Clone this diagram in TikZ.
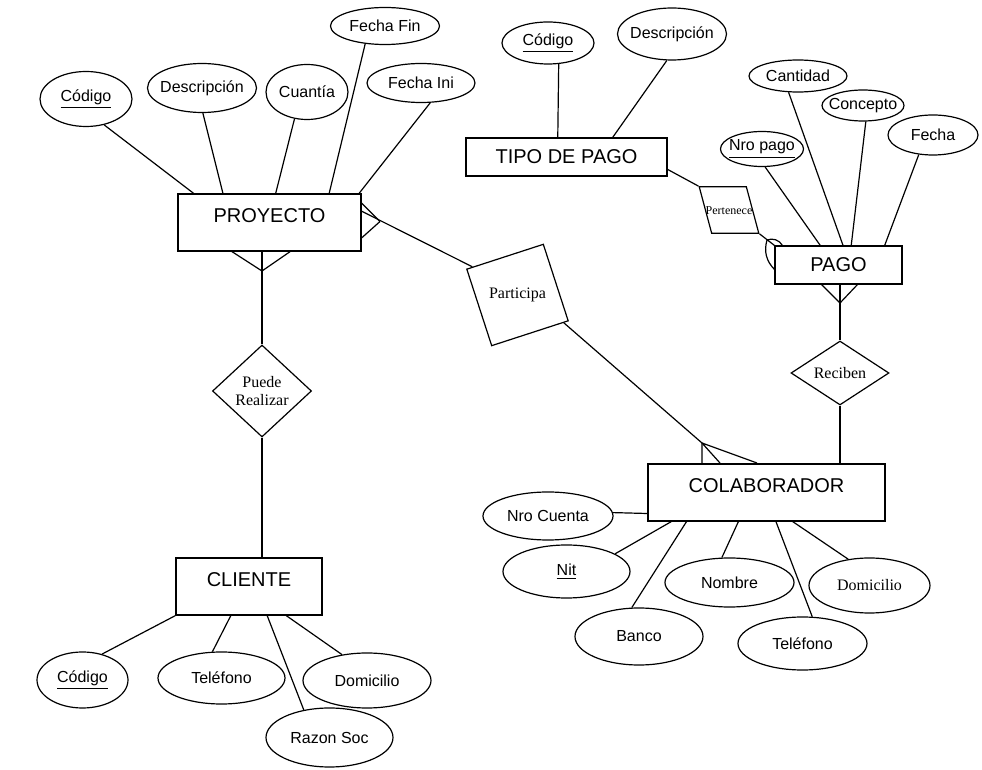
\documentclass[tikz,border=0pt]{standalone}
\usepackage{fontspec}
\setmainfont{Liberation Serif}
\setsansfont{Liberation Sans}
\usetikzlibrary{shapes.geometric,calc}

\tikzset{
  ent/.style={draw, rectangle, inner sep=0pt,
              font=\sffamily\fontsize{10}{12}\selectfont,
              text height=7pt, text depth=0pt},
  entalta/.style={ent, minimum height=28.5pt, text depth=7pt},
  atr/.style 2 args={draw, ellipse, inner sep=0pt,
                     minimum width=#1, minimum height=#2,
                     font=\sffamily\fontsize{8}{9.6}\selectfont,
                     execute at begin node={\hbox to 0pt\bgroup\hss},
                     execute at end node={\hss\egroup}},
  rel/.style={draw, inner sep=0pt, align=center,
              font=\rmfamily\fontsize{8}{9}\selectfont},
}

\begin{document}
\begin{tikzpicture}[x=0.5pt, y=-0.5pt, line width=0.6pt]
\useasboundingbox (0,0) rectangle (982,770);

% Entidades
\node[entalta, minimum width=91.5pt] (proy) at (269.5,222.5) {PROYECTO};
\node[ent, minimum width=100.5pt, minimum height=19pt] (tipo) at (566.5,157) {TIPO DE PAGO};
\node[ent, minimum width=63.5pt, minimum height=19pt] (pago) at (838.5,265) {PAGO};
\node[entalta, minimum width=118.5pt] (colab) at (766.5,492.5) {COLABORADOR};
\node[entalta, minimum width=73pt] (cli) at (249,586.5) {CLIENTE};

% Relaciones
\node[rel, diamond, minimum width=49.5pt, minimum height=46pt] (pr) at (262,391) {Puede\\Realizar};
\node[rel, regular polygon, regular polygon sides=4, shape border rotate=18,
      minimum size=50.5pt] (part) at (517.5,295) {Participa};
\node[rel, trapezium, trapezium left angle=105, trapezium right angle=75,
      inner xsep=-3pt, inner ysep=9.4pt, text height=4.5pt, text depth=0pt,
      font=\rmfamily\fontsize{6}{7}\selectfont] (pert) at (729,210) {Pertenece};
\node[rel, diamond, aspect=1.5, minimum width=49pt, minimum height=32pt] (rec) at (840,373) {Reciben};

% Atributos de PROYECTO
\node[atr={46pt}{27.5pt}] (pcod) at (86,99) {\underline{Código}};
\node[atr={54.5pt}{24.5pt}] (pdes) at (202,88) {Descripción};
\node[atr={41pt}{27.5pt}] (pcua) at (307,92) {Cuantía};
\node[atr={54.5pt}{18.5pt}] (pffin) at (385,26) {Fecha Fin};
\node[atr={54pt}{19.5pt}] (pfini) at (421,83) {Fecha Ini};

% Atributos de TIPO DE PAGO
\node[atr={46pt}{21pt}] (tcod) at (548,43) {\underline{Código}};
\node[atr={54.5pt}{26pt}] (tdes) at (672,34) {Descripción};

% Atributos de PAGO
\node[atr={41.5pt}{17.5pt}] (gnro) at (762,149) {\underline{Nro pago}};
\node[atr={49pt}{16pt}] (gcan) at (798,76) {Cantidad};
\node[atr={41pt}{15.5pt}] (gcon) at (863,105.5) {Concepto};
\node[atr={45pt}{20pt}] (gfec) at (933,135) {Fecha};

% Atributos de COLABORADOR
\node[atr={65pt}{24pt}] (cnro) at (548,516) {Nro Cuenta};
\node[atr={63.5pt}{26.5pt}] (cnit) at (566.5,571.5) {\underline{Nit}};
\node[atr={64pt}{28.5pt}] (cban) at (639,636.5) {Banco};
\node[atr={64.5pt}{24.5pt}] (cnom) at (729.5,582.5) {Nombre};
\node[atr={64.5pt}{26.5pt}] (ctel) at (802.5,643.5) {Teléfono};
\node[atr={60.5pt}{27.5pt}, font=\rmfamily\fontsize{8}{9.6}\selectfont] (cdom) at (869.5,585.5) {Domicilio};

% Atributos de CLIENTE
\node[atr={45.5pt}{28pt}] (kcod) at (82.5,680) {\underline{Código}};
\node[atr={63.5pt}{26pt}] (ktel) at (221.5,678) {Teléfono};
\node[atr={63.5pt}{29.5pt}] (krs) at (329.5,737.5) {Razon Soc};
\node[atr={64pt}{27.5pt}] (kdom) at (367,680.5) {Domicilio};

% Lineas de atributos
\draw (pcod.-55) -- (proy.159);
\draw (pdes.-88) -- (proy.148);
\draw (pcua.-115) -- (proy.78);
\draw (pffin.-138) -- (proy.26);
\draw (pfini.-65) -- (proy.18);

\draw (tcod.-63) -- (tipo.114);
\draw (tdes.-101) -- (tipo.23);

\draw (gnro.-80) -- (pago.133);
\draw (gcan.-120) -- (pago.77);
\draw (gcon.-80) -- (pago.57);
\draw (gfec.-126) -- (pago.23);

\draw (cnro.3) -- (colab.-170);
\draw (cnit.20) -- (colab.-163);
\draw (cban.104) -- (colab.-160);
\draw (cnom.107) -- (colab.-134);
\draw (ctel.70) -- (colab.-72);
\draw (cdom.129) -- (colab.-48);

\draw (kcod.53) -- (cli.south west);
\draw (ktel.109) -- (cli.-122);
\draw (krs.133) -- (cli.-58);
\draw (kdom.134) -- (cli.-38);

% PROYECTO - Puede Realizar - CLIENTE
\coordinate (pata1) at (262,271);
\draw (proy.south -| pr.north) -- (pr.north);
\draw (pata1) -- ++(-31,-20) (pata1) -- ++(29,-20);
\draw (pr.south) -- (cli.north -| pr.south);

% PROYECTO - Participa - COLABORADOR
\draw (proy.7) -- (part.148);
\coordinate (pata2) at (380,221.5);
\draw (pata2) -- ++(-19,-19) (pata2) -- ++(-19,17);
\coordinate (pata3) at (702,443);
\draw (part.-31) -- (pata3) -- (pata3 |- colab.north);
\draw (pata3) -- ++(18,20) (pata3) -- ++(55,20);

% TIPO DE PAGO - Pertenece - PAGO
\draw (tipo.-7) -- (pert.top left corner);
\draw (pert.bottom right corner) -- (pago.north west);
\coordinate (pata4) at (767,240);
\draw (pata4) to[bend right=30] ($(pago.north west)+(0,24)$);
\draw (pata4) to[bend left=40] ($(pago.north west)+(8,0)$);

% PAGO - Reciben - COLABORADOR
\coordinate (pata5) at (840,303);
\draw (pago.south -| rec.north) -- (rec.north);
\draw (pata5) -- ++(-19,-19) (pata5) -- ++(18,-19);
\draw (rec.south) -- (rec.south |- colab.north);

\end{tikzpicture}
\end{document}
